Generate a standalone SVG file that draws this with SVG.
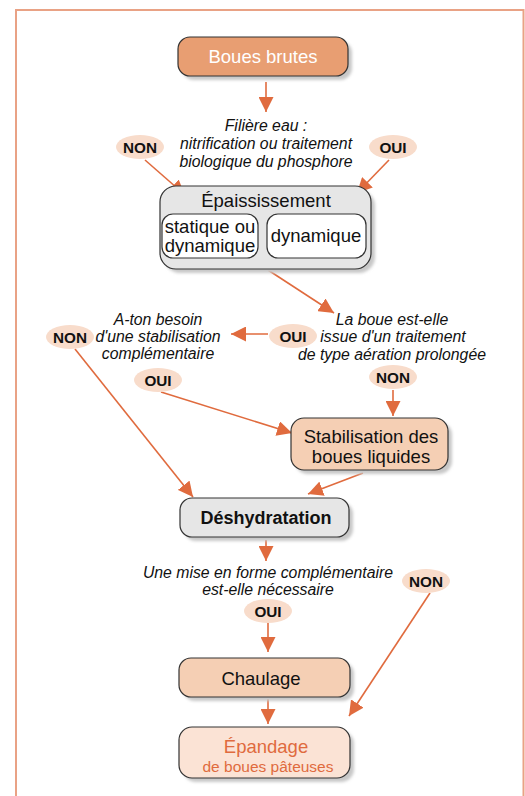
<svg xmlns="http://www.w3.org/2000/svg" width="525" height="796" viewBox="0 0 525 796">
<defs>
<marker id="ahb" viewBox="0 0 10 10" refX="10" refY="5" markerWidth="15" markerHeight="15" markerUnits="userSpaceOnUse" orient="auto">
<path d="M0,0 L10,5 L0,10 z" fill="#E06B3E"/>
</marker>
<filter id="sh" x="-10%" y="-10%" width="130%" height="140%">
<feGaussianBlur stdDeviation="1.5"/>
</filter>
</defs>
<style>
.frame{fill:none;stroke:#E9A285;stroke-width:2}
.box{stroke:#333;stroke-width:1.2}
.shadow{fill:#c8c8c8;filter:url(#sh)}
.gray{fill:#E6E6E6}
.peach{fill:#F5CFB4}
.light{fill:#FBE3D5}
.dark{fill:#E89E72}
.white{fill:#fff}
.t{font-family:"Liberation Sans",Arial,sans-serif;fill:#111;text-anchor:middle}
.lbl{font-size:18.5px}
.q{font-size:15.8px;font-style:italic}
.yn{font-size:15.3px;font-weight:bold}
.ell{fill:#F8DCCB}
.c{stroke:#E06B3E;stroke-width:1.6;fill:none;marker-end:url(#ahb)}
</style>
<rect width="525" height="796" fill="#fff"/>
<path class="frame" d="M16,800 L16,10 L523.5,10 L523.5,800"/>

<g id="connectors">
<line class="c" x1="266" y1="82" x2="266" y2="112"/>
<line class="c" x1="145" y1="160" x2="185" y2="195"/>
<line class="c" x1="389" y1="160" x2="357" y2="193"/>
<line class="c" x1="268" y1="270" x2="334" y2="313"/>
<line class="c" x1="268" y1="334" x2="231" y2="334"/>
<line class="c" x1="393" y1="390" x2="393" y2="416"/>
<line class="c" x1="161" y1="392" x2="292" y2="433"/>
<line class="c" x1="363" y1="473" x2="308" y2="494"/>
<line class="c" x1="75" y1="349" x2="193" y2="497"/>
<line class="c" x1="266" y1="540" x2="266" y2="561"/>
<line class="c" x1="268" y1="623" x2="268" y2="652"/>
<line class="c" x1="268" y1="699" x2="268" y2="724"/>
<line class="c" x1="430" y1="593" x2="349" y2="716"/>
</g>

<g id="boues-brutes">
<rect class="shadow" x="182" y="41" width="170" height="39" rx="12"/>
<rect class="box dark" x="178" y="37" width="170" height="39" rx="12"/>
<text class="t lbl" x="263" y="63" style="fill:#fff">Boues brutes</text>
</g>

<g id="q1">
<text class="t q" x="266" y="131">Filière eau :</text>
<text class="t q" x="266" y="149">nitrification ou traitement</text>
<text class="t q" x="266" y="167">biologique du phosphore</text>
</g>
<g id="non1"><ellipse class="ell" cx="140" cy="147" rx="24" ry="12"/><text class="t yn" x="140" y="152.5">NON</text></g>
<g id="oui1"><ellipse class="ell" cx="393" cy="147" rx="24" ry="12"/><text class="t yn" x="393" y="152.5">OUI</text></g>

<g id="epaississement">
<rect class="shadow" x="164" y="190" width="211" height="83" rx="16"/>
<rect class="box gray" x="160" y="186" width="211" height="83" rx="16"/>
<text class="t lbl" x="266" y="207">Épaississement</text>
<rect class="box white" x="162" y="214" width="96" height="44" rx="11"/>
<text class="t lbl" x="210" y="233">statique ou</text>
<text class="t lbl" x="210" y="252">dynamique</text>
<rect class="box white" x="267" y="214" width="99" height="44" rx="11"/>
<text class="t lbl" x="316" y="242">dynamique</text>
</g>

<g id="q2">
<text class="t q" x="392" y="325">La boue est-elle</text>
<text class="t q" x="393" y="342">issue d'un traitement</text>
<text class="t q" x="392" y="360">de type aération prolongée</text>
</g>
<g id="oui2"><ellipse class="ell" cx="293" cy="336" rx="24" ry="12"/><text class="t yn" x="293" y="341.5">OUI</text></g>
<g id="q3">
<text class="t q" x="158" y="325">A-ton besoin</text>
<text class="t q" x="158" y="342">d'une stabilisation</text>
<text class="t q" x="158" y="359">complémentaire</text>
</g>
<g id="non3"><ellipse class="ell" cx="70" cy="337" rx="24" ry="12"/><text class="t yn" x="70" y="342.5">NON</text></g>
<g id="oui3"><ellipse class="ell" cx="158" cy="380" rx="24" ry="12"/><text class="t yn" x="158" y="385.5">OUI</text></g>
<g id="non2"><ellipse class="ell" cx="393" cy="377" rx="24" ry="12"/><text class="t yn" x="393" y="382.5">NON</text></g>

<g id="stabilisation">
<rect class="shadow" x="295" y="422" width="157" height="52" rx="13"/>
<rect class="box peach" x="291" y="418" width="157" height="52" rx="13"/>
<text class="t lbl" x="371" y="443">Stabilisation des</text>
<text class="t lbl" x="371" y="463">boues liquides</text>
</g>

<g id="deshydratation">
<rect class="shadow" x="184" y="502" width="169" height="39" rx="12"/>
<rect class="box gray" x="180" y="498" width="169" height="39" rx="12"/>
<text class="t" x="266" y="524" style="font-weight:bold;font-size:18px">Déshydratation</text>
</g>

<g id="q4">
<text class="t q" x="268" y="578">Une mise en forme complémentaire</text>
<text class="t q" x="268" y="595">est-elle nécessaire</text>
</g>
<g id="oui4"><ellipse class="ell" cx="268" cy="611" rx="24" ry="12"/><text class="t yn" x="268" y="616.5">OUI</text></g>
<g id="non4"><ellipse class="ell" cx="426" cy="581" rx="24" ry="12"/><text class="t yn" x="426" y="586.5">NON</text></g>

<g id="chaulage">
<rect class="shadow" x="183" y="662" width="171" height="39" rx="12"/>
<rect class="box peach" x="179" y="658" width="171" height="39" rx="12"/>
<text class="t lbl" x="261" y="685">Chaulage</text>
</g>

<g id="epandage">
<rect class="shadow" x="183" y="731" width="171" height="51" rx="13"/>
<rect class="box light" x="179" y="727" width="171" height="51" rx="13"/>
<text class="t" x="266" y="753" style="font-size:18.5px;fill:#E06B3E">Épandage</text>
<text class="t" x="268" y="772" style="font-size:15.5px;fill:#E06B3E">de boues pâteuses</text>
</g>
</svg>
